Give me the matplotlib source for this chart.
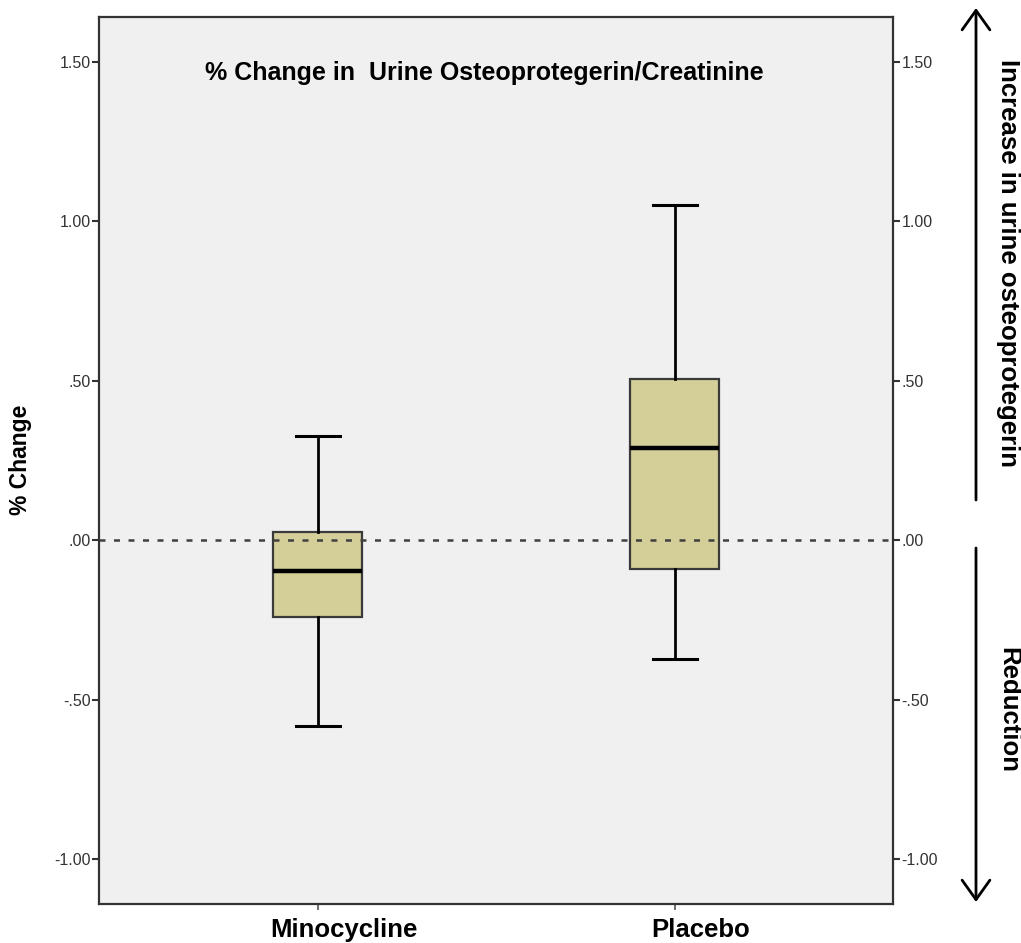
import matplotlib
matplotlib.use("Agg")
import matplotlib.pyplot as plt
from matplotlib.transforms import ScaledTranslation
from matplotlib.patches import FancyArrowPatch

categories = ["Minocycline", "Placebo"]
whisker_low = [-0.583, -0.371]
q1 = [-0.241, -0.091]
median = [-0.096, 0.288]
q3 = [0.026, 0.507]
whisker_high = [0.326, 1.052]

yticks = [-1.0, -0.5, 0.0, 0.5, 1.0, 1.5]
ytick_labels = ["-1.00", "-.50", ".00", ".50", "1.00", "1.50"]

title = "% Change in  Urine Osteoprotegerin/Creatinine"
ylabel = "% Change"
up_text = "Increase in urine osteoprotegerin"
down_text = "Reduction"

plt.rcParams['font.family'] = ['Liberation Sans', 'DejaVu Sans']

fig = plt.figure(figsize=(10.21, 9.43), dpi=100)
ax = fig.add_axes([0.097, 0.0414, 0.7776, 0.9409])
ax.set_facecolor("#F0F0F0")

stats = []
for i, c in enumerate(categories):
    stats.append(dict(label=c, whislo=whisker_low[i], q1=q1[i], med=median[i],
                      q3=q3[i], whishi=whisker_high[i], fliers=[]))
positions = list(range(len(categories)))
ax.bxp(stats, positions=positions, widths=0.249, capwidths=0.123,
       showfliers=False, patch_artist=True,
       boxprops=dict(facecolor="#D4CF98", edgecolor="#3a3a3a", linewidth=1.6),
       medianprops=dict(color="black", linewidth=3.2),
       whiskerprops=dict(color="black", linewidth=2),
       capprops=dict(color="black", linewidth=2.2))

ax.axhline(0, color="#404040", linestyle=(0, (2.4, 3.4)), linewidth=1.8, zorder=3)

ax.set_xlim(-0.613, 1.611)
ax.set_ylim(-1.1405, 1.6415)
ax.set_yticks(yticks)
ax.set_yticklabels(ytick_labels, fontsize=11.5, color="#333333")
ax.set_xticks(positions)
ax.set_xticklabels(categories, fontsize=18.5, fontweight="bold")
ax.tick_params(axis="y", direction="out", length=5, width=1.5, color="#333333", pad=1)
ax.tick_params(axis="x", direction="out", length=4, width=1.2, color="#555555", pad=6)
for lbl in ax.get_xticklabels():
    lbl.set_transform(lbl.get_transform() + ScaledTranslation(0.26, 0, fig.dpi_scale_trans))
for s in ax.spines.values():
    s.set_color("#333333")
    s.set_linewidth(1.6)

ax2 = ax.twinx()
ax2.set_ylim(ax.get_ylim())
ax2.set_yticks(yticks)
ax2.set_yticklabels(ytick_labels, fontsize=11.5, color="#333333")
ax2.tick_params(axis="y", direction="out", length=5, width=1.5, color="#333333", pad=1)
for s in ax2.spines.values():
    s.set_visible(False)

ax.text(0.485, 0.937, title, transform=ax.transAxes, ha="center", va="center",
        fontsize=18, fontweight="bold")
fig.text(20 / 1021, 1 - 460 / 943, ylabel, rotation=90, ha="center", va="center",
         fontsize=16.5, fontweight="bold")

# arrows on the right
fig_h = 943.0
fig_w = 1021.0
x_arrow = 976 / fig_w
astyle = "->,head_length=14,head_width=10"
fig.add_artist(FancyArrowPatch(
    (x_arrow, 1 - 500 / fig_h), (x_arrow, 1 - 8 / fig_h), transform=fig.transFigure,
    arrowstyle=astyle, color="black", linewidth=2.0, mutation_scale=1,
    shrinkA=0, shrinkB=0))
fig.add_artist(FancyArrowPatch(
    (x_arrow, 1 - 548 / fig_h), (x_arrow, 1 - 902 / fig_h), transform=fig.transFigure,
    arrowstyle=astyle, color="black", linewidth=2.0, mutation_scale=1,
    shrinkA=0, shrinkB=0))
fig.text(1008 / fig_w, 1 - 263 / fig_h, up_text, rotation=-90, ha="center", va="center",
         fontsize=18.5, fontweight="bold")
fig.text(1008 / fig_w, 1 - 710 / fig_h, down_text, rotation=-90, ha="center", va="center",
         fontsize=18.5, fontweight="bold")

fig.savefig("out.png", dpi=100)
